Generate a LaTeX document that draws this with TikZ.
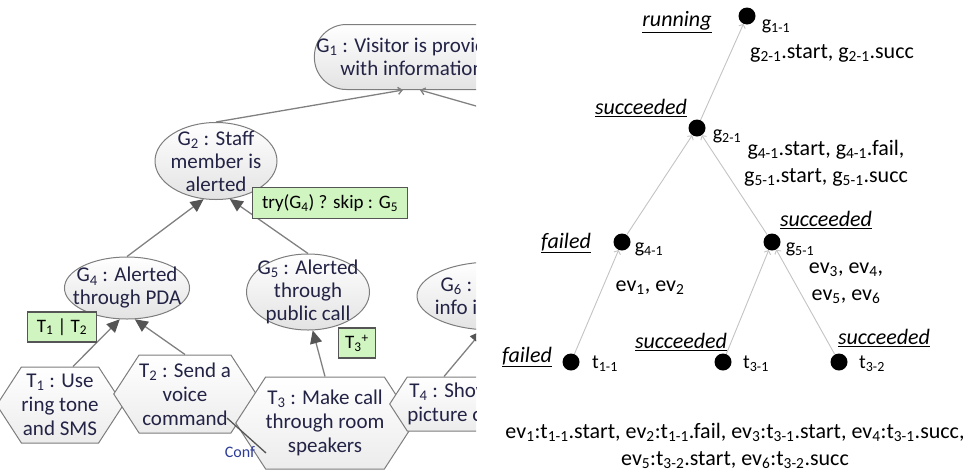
\documentclass[tikz,border=0pt]{standalone}
\usepackage{fontspec}
\setmainfont{Carlito}
\usetikzlibrary{shapes.geometric, shapes.symbols, arrows.meta}
\definecolor{goalline}{RGB}{125,125,125}
\definecolor{goaltext}{RGB}{35,35,70}
\definecolor{annotfill}{RGB}{208,245,192}
\definecolor{linkgray}{RGB}{128,128,128}
\definecolor{headgray}{RGB}{85,85,85}
\definecolor{conftext}{RGB}{45,60,150}
\definecolor{treeline}{RGB}{195,195,195}

\begin{document}
\begin{tikzpicture}[x=1pt, y=-1pt,
    goal/.style={draw=goalline, line width=1pt, ellipse, top color=white, bottom color=gray!22,
      inner sep=-10pt, align=center, text=goaltext, font=\fontsize{21}{23}\selectfont},
    rgoal/.style={goal, rectangle, rounded corners=32pt, inner sep=2pt},
    task/.style={draw=goalline, line width=1pt, signal, signal to=west and east, signal pointer angle=114,
      top color=white, bottom color=gray!15, inner xsep=0pt, inner ysep=2pt, align=center,
      text=goaltext, font=\fontsize{21}{24}\selectfont},
    annot/.style={draw=headgray, line width=1.2pt, fill=annotfill, inner sep=2pt, font=\fontsize{19}{21}\selectfont},
    decomp/.style={draw=linkgray, line width=1.3pt, -{Triangle[length=13pt,width=12pt,color=headgray]}},
    reflink/.style={draw=linkgray, line width=1.3pt, -{Straight Barb[length=4pt,width=7pt]}},
    conflink/.style={draw=headgray, line width=1.3pt},
    conftag/.style={text=conftext, font=\fontsize{16}{18}\selectfont},
    state/.style={circle, fill=black, minimum size=17pt, inner sep=0pt},
    stname/.style={font=\fontsize{20}{24}\selectfont},
    stval/.style={font=\fontsize{22}{26}\selectfont\itshape},
    evtext/.style={align=center, font=\fontsize{22}{27}\selectfont},
    tedge/.style={draw=treeline, line width=0.9pt, -{Straight Barb[length=3pt,width=7pt]}}]
  \useasboundingbox (0,0) rectangle (965,472);

  % goal model (cut off at the right)
  \begin{scope}
    \clip (0,0) rectangle (476,472);
    \node[rgoal, minimum width=195pt, minimum height=65pt] (g1) at (412,57) {G\textsubscript{1} : Visitor is provided\\with information};
    \node[goal, minimum width=122pt, minimum height=77pt] (g2) at (216,161) {G\textsubscript{2} : Staff\\member is\\alerted};
    \node[goal, minimum width=120pt, minimum height=62pt] (g4) at (127,288) {G\textsubscript{4} : Alerted\\through PDA};
    \node[goal, minimum width=123pt, minimum height=76pt] (g5) at (308,292) {G\textsubscript{5} : Alerted\\through\\public call};
    \node[goal, minimum width=150pt, minimum height=68pt] (g6) at (492,296) {G\textsubscript{6} : Present\\info in screen};

    \node[task, minimum width=106pt, minimum height=76pt] (t1) at (60,405) {T\textsubscript{1} : Use\\ring tone\\and SMS};
    \node[task, minimum width=125pt, minimum height=78pt] (t2) at (185,394) {T\textsubscript{2} : Send a\\voice\\command};
    \node[task, minimum width=144pt, minimum height=92pt] (t3) at (325,423) {T\textsubscript{3} : Make call\\through room\\speakers};
    \node[task, minimum width=160pt, minimum height=54pt] (t4) at (471,404) {T\textsubscript{4} : Show staff\\picture on PDA};

    \coordinate (g3) at (560,130);
    \draw[reflink] (g2.north) -- ([xshift=-9pt]g1.south);
    \draw[reflink] (g3) -- ([xshift=8pt]g1.south);
    \draw[decomp] (g4.north) -- (g2.252);
    \draw[decomp] (g5.north) -- (g2.290);
    \draw[decomp] ([xshift=13pt]t1.north) -- (g4.257);
    \draw[decomp] (t2.north) -- (g4.284);
    \draw[decomp] (t3.north) -- (g5.277);
    \draw[decomp] ([xshift=-27pt]t4.north) -- (g6.255);
    \draw[conflink] ([shift={(42,24)}]t2.center) -- ([shift={(-59,30)}]t3.center);
    \node[conftag] (conf) at (240,452) {Conf};

    % runtime annotations
    \node[annot, minimum width=155pt, minimum height=31pt] (a2) at (330,203) {try(G\textsubscript{4}) ? skip : G\textsubscript{5}};
    \node[annot, minimum width=69pt, minimum height=30pt] (a4) at (62,327) {T\textsubscript{1} | T\textsubscript{2}};
    \node[annot, minimum width=37pt, minimum height=30pt] (a5) at (357,343) {T\textsubscript{3}\textsuperscript{+}};
  \end{scope}

  % execution tree
  \node[state] (g11) at (747,16) {};
  \node[state] (g21) at (697,128) {};
  \node[state] (g41) at (622,242) {};
  \node[state] (g51) at (772,242) {};
  \node[state] (t11) at (571,362) {};
  \node[state] (t31) at (723,362) {};
  \node[state] (t32) at (839,362) {};

  \node[stname] (g11n) at (776,26) {g\textsubscript{1-1}};
  \node[stname] (g21n) at (727,136) {g\textsubscript{2-1}};
  \node[stname] (g41n) at (649,249) {g\textsubscript{4-1}};
  \node[stname] (g51n) at (800,249) {g\textsubscript{5-1}};
  \node[stname] (t11n) at (605,364) {t\textsubscript{1-1}};
  \node[stname] (t31n) at (756,364) {t\textsubscript{3-1}};
  \node[stname] (t32n) at (872,364) {t\textsubscript{3-2}};

  \node[stval] (g11s) at (677,22) {\underline{running}};
  \node[stval] (g21s) at (641,108) {\underline{succeeded}};
  \node[stval] (g41s) at (566,243) {\underline{failed}};
  \node[stval] (g51s) at (826,220) {\underline{succeeded}};
  \node[stval] (t11s) at (527,357) {\underline{failed}};
  \node[stval] (t31s) at (681,342) {\underline{succeeded}};
  \node[stval] (t32s) at (884,338) {\underline{succeeded}};

  \draw[tedge] (g21) -- (g11);
  \draw[tedge] (g41) -- (g21);
  \draw[tedge] (g51) -- (g21);
  \draw[tedge] (t11) -- (g41);
  \draw[tedge] (t31) -- (g51);
  \draw[tedge] (t32) -- (g51);

  \node[evtext] (e1) at (832,53) {g\textsubscript{2-1}.start, g\textsubscript{2-1}.succ};
  \node[evtext] (e2) at (826,163) {g\textsubscript{4-1}.start, g\textsubscript{4-1}.fail,\\g\textsubscript{5-1}.start, g\textsubscript{5-1}.succ};
  \node[evtext] (e3) at (650,288) {ev\textsubscript{1}, ev\textsubscript{2}};
  \node[evtext] (e4) at (846,283) {ev\textsubscript{3}, ev\textsubscript{4},\\ev\textsubscript{5}, ev\textsubscript{6}};
  \node[evtext] (evlist) at (735,446) {ev\textsubscript{1}:t\textsubscript{1-1}.start, ev\textsubscript{2}:t\textsubscript{1-1}.fail, ev\textsubscript{3}:t\textsubscript{3-1}.start, ev\textsubscript{4}:t\textsubscript{3-1}.succ,\\ev\textsubscript{5}:t\textsubscript{3-2}.start, ev\textsubscript{6}:t\textsubscript{3-2}.succ};
\end{tikzpicture}
\end{document}
